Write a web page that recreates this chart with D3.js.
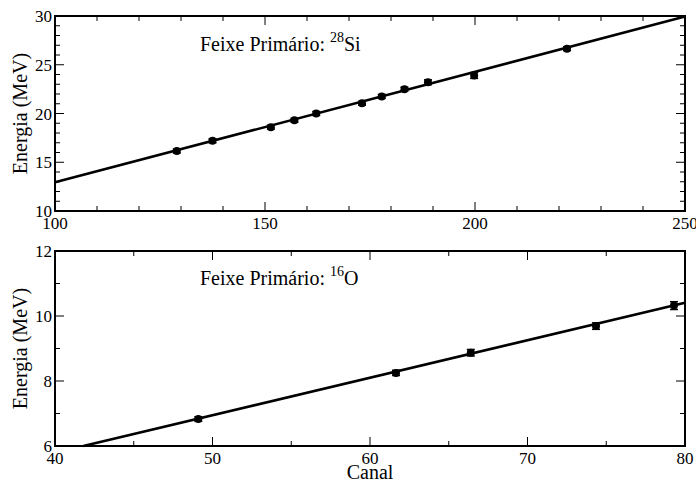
<!DOCTYPE html>
<html lang="pt">
<head>
<meta charset="utf-8"/>
<title>Calibração em energia</title>
<script src="https://cdn.jsdelivr.net/npm/d3@7"></script>
<style>
  body { margin: 0; background: #fff; }
</style>
</head>
<body>
<svg id="chart"></svg>
<script>
// feixe de 28Si
const siCanal = [129, 137.5, 151.4, 157, 162.2, 173.1, 177.8, 183.2, 188.8, 199.8, 221.9]
const siEnergia = [16.15, 17.2, 18.6, 19.3, 20.0, 21.05, 21.75, 22.5, 23.2, 23.9, 26.65]
const siErro = [0.2, 0.2, 0.2, 0.2, 0.2, 0.2, 0.2, 0.2, 0.25, 0.3, 0.2]
const siAjuste = [[100, 12.94], [250, 29.94]]

// feixe de 16O
const oCanal = [49.1, 61.65, 66.4, 74.35, 79.3]
const oEnergia = [6.83, 8.25, 8.87, 9.69, 10.32]
const oErro = [0.07, 0.08, 0.1, 0.1, 0.12]
const oAjuste = [[41.8, 6.0], [80, 10.41]]

const width = 696
const height = 483
const serif = '"Liberation Serif", "Times New Roman", Times, "DejaVu Serif", serif'

const svg = d3.select('#chart')
  .attr('width', width)
  .attr('height', height)
  .attr('font-family', serif)

function panel(cfg) {
  const x = d3.scaleLinear().domain(cfg.xDomain).range([55, 685])
  const y = d3.scaleLinear().domain(cfg.yDomain).range([cfg.bottom, cfg.top])
  const g = svg.append('g')

  // ticks on all four sides, pointing inward
  const xMinor = d3.range(cfg.xDomain[0], cfg.xDomain[1] + 1e-9, cfg.xMinor)
  const yMinor = d3.range(cfg.yDomain[0], cfg.yDomain[1] + 1e-9, cfg.yMinor)
  const isMajor = (v, step) => Math.abs(v / step - Math.round(v / step)) < 1e-6

  xMinor.forEach(v => {
    const len = isMajor(v, cfg.xMajor) ? 9 : 5
    g.append('line').attr('x1', x(v)).attr('x2', x(v))
      .attr('y1', cfg.bottom).attr('y2', cfg.bottom - len)
      .attr('stroke', '#000').attr('stroke-width', 1)
    g.append('line').attr('x1', x(v)).attr('x2', x(v))
      .attr('y1', cfg.top).attr('y2', cfg.top + len)
      .attr('stroke', '#000').attr('stroke-width', 1)
  })
  yMinor.forEach(v => {
    const len = isMajor(v, cfg.yMajor) ? 9 : 5
    g.append('line').attr('x1', 55).attr('x2', 55 + len)
      .attr('y1', y(v)).attr('y2', y(v))
      .attr('stroke', '#000').attr('stroke-width', 1)
    g.append('line').attr('x1', 685).attr('x2', 685 - len)
      .attr('y1', y(v)).attr('y2', y(v))
      .attr('stroke', '#000').attr('stroke-width', 1)
  })

  // tick labels
  g.selectAll('.xl')
    .data(xMinor.filter(v => isMajor(v, cfg.xMajor)))
    .enter().append('text')
    .attr('x', d => x(d)).attr('y', cfg.bottom + 18)
    .attr('text-anchor', 'middle')
    .style('font-size', '17px')
    .text(d => d)
  g.selectAll('.yl')
    .data(yMinor.filter(v => isMajor(v, cfg.yMajor)))
    .enter().append('text')
    .attr('x', 52).attr('y', d => y(d) + 6)
    .attr('text-anchor', 'end')
    .style('font-size', '17px')
    .text(d => d)

  // fit line
  g.append('path')
    .datum(cfg.fit)
    .attr('d', d3.line().x(d => x(d[0])).y(d => y(d[1])))
    .attr('stroke', '#000').attr('stroke-width', 2.6).attr('fill', 'none')

  // error bars + points
  cfg.xs.forEach((c, i) => {
    const e = cfg.ys[i]
    const err = cfg.errs[i]
    g.append('line').attr('x1', x(c)).attr('x2', x(c))
      .attr('y1', y(e - err)).attr('y2', y(e + err))
      .attr('stroke', '#000').attr('stroke-width', 1.5)
    ;[e - err, e + err].forEach(v => {
      g.append('line').attr('x1', x(c) - 4).attr('x2', x(c) + 4)
        .attr('y1', y(v)).attr('y2', y(v))
        .attr('stroke', '#000').attr('stroke-width', 1.5)
    })
    g.append('circle').attr('cx', x(c)).attr('cy', y(e)).attr('r', 4).attr('fill', '#000')
  })

  // frame
  g.append('rect')
    .attr('x', 55).attr('y', cfg.top)
    .attr('width', 630).attr('height', cfg.bottom - cfg.top)
    .attr('fill', 'none').attr('stroke', '#000').attr('stroke-width', 2)

  // y axis title
  const mid = (cfg.top + cfg.bottom) / 2
  g.append('text')
    .attr('transform', `translate(27,${mid}) rotate(-90)`)
    .attr('text-anchor', 'middle')
    .style('font-size', '20px')
    .text('Energia (MeV)')

  // beam annotation
  const t = g.append('text')
    .attr('x', cfg.noteX).attr('y', cfg.noteY)
    .style('font-size', '20px')
  t.append('tspan').text('Feixe Primário: ')
  t.append('tspan').attr('dy', -9).style('font-size', '14px').text(cfg.mass)
  t.append('tspan').attr('dy', 9).text(cfg.element)
}

panel({
  xDomain: [100, 250], yDomain: [10, 30],
  xMajor: 50, xMinor: 10, yMajor: 5, yMinor: 1,
  top: 16, bottom: 211,
  xs: siCanal, ys: siEnergia, errs: siErro, fit: siAjuste,
  noteX: 200, noteY: 51, mass: '28', element: 'Si'
})

panel({
  xDomain: [40, 80], yDomain: [6, 12],
  xMajor: 10, xMinor: 5, yMajor: 2, yMinor: 1,
  top: 251, bottom: 446,
  xs: oCanal, ys: oEnergia, errs: oErro, fit: oAjuste,
  noteX: 200, noteY: 285, mass: '16', element: 'O'
})

svg.append('text')
  .attr('x', 370).attr('y', 479)
  .attr('text-anchor', 'middle')
  .style('font-size', '20px')
  .text('Canal')
</script>
</body>
</html>
